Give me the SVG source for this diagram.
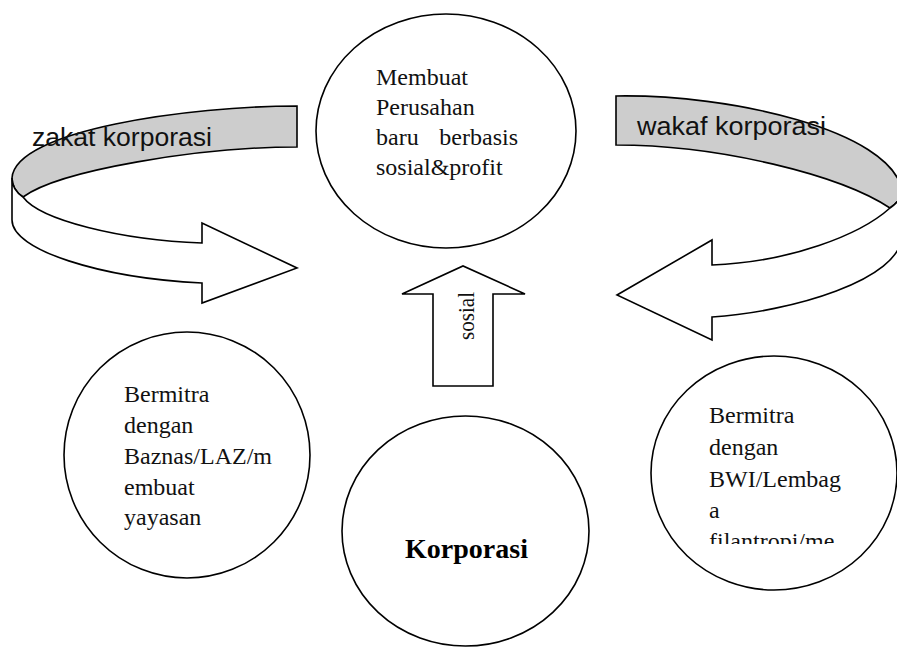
<svg xmlns="http://www.w3.org/2000/svg" width="897" height="648" viewBox="0 0 897 648">
<style>
.shape{fill:#fff;stroke:#000;stroke-width:1.6;stroke-linejoin:miter}
.band{fill:#cdcdcd;stroke:#000;stroke-width:1.6}
.t{font-family:"Liberation Serif","Times New Roman",serif;font-size:24px;fill:#111}
.s{font-family:"Liberation Sans",Arial,sans-serif;font-size:26.5px;fill:#111}
</style>
<defs>
<clipPath id="clipR"><rect x="640" y="380" width="257" height="164"/></clipPath>
</defs>
<rect width="897" height="648" fill="#fff"/>
<g id="connectors">
<g id="zakat-arrow">
<path class="band" d="M297,106 C190,106 15,130 12,178 C12,186 17,193 23,197 C60,170 200,147 297,147 Z"/>
<path class="shape" d="M12,178 C12,186 17,193 23,197 C40,220 120,240 202,243 L202,223 L297,268 L202,303 L202,283 C100,278 12,250 12,220 Z"/>
<text class="s" x="32" y="146" textLength="180" lengthAdjust="spacingAndGlyphs">zakat korporasi</text>
</g>
<g id="wakaf-arrow">
<path class="band" d="M616,96 C730,94 890,130 902,190 C902,198 896,204 890,208 C840,175 720,145 616,145 Z"/>
<path class="shape" d="M902,190 C902,198 896,204 890,208 C860,235 790,262 712,265 L712,240 L617,295 L712,340 L712,317 C790,312 902,280 902,235 Z"/>
<text class="s" x="637" y="135" textLength="189" lengthAdjust="spacingAndGlyphs">wakaf korporasi</text>
</g>
<g id="sosial-arrow">
<path class="shape" d="M433,386 L433,294 L402,294 L463,266 L525,294 L493,294 L493,386 Z"/>
<text class="t" style="font-size:23px" text-anchor="middle" transform="translate(474,316) rotate(-90)" textLength="48" lengthAdjust="spacingAndGlyphs">sosial</text>
</g>
</g>
<g id="node-perusahaan">
<ellipse class="shape" cx="446" cy="131" rx="130" ry="117"/>
<text class="t" x="376" y="85">Membuat</text>
<text class="t" x="376" y="115">Perusahan</text>
<text class="t" x="376" y="145">baru</text>
<text class="t" x="518" y="145" text-anchor="end">berbasis</text>
<text class="t" x="376" y="175">sosial&amp;profit</text>
</g>
<g id="node-baznas">
<ellipse class="shape" cx="187" cy="455" rx="123" ry="123"/>
<text class="t" x="124" y="402">Bermitra</text>
<text class="t" x="124" y="433">dengan</text>
<text class="t" x="124" y="464">Baznas/LAZ/m</text>
<text class="t" x="124" y="495">embuat</text>
<text class="t" x="124" y="525">yayasan</text>
</g>
<g id="node-bwi">
<ellipse class="shape" cx="774" cy="473" rx="123" ry="117"/>
<g clip-path="url(#clipR)">
<text class="t" x="709" y="423">Bermitra</text>
<text class="t" x="709" y="455">dengan</text>
<text class="t" x="709" y="487">BWI/Lembag</text>
<text class="t" x="709" y="518">a</text>
<text class="t" x="709" y="549">filantropi/me</text>
</g>
</g>
<g id="node-korporasi">
<ellipse class="shape" cx="465.5" cy="531" rx="123.5" ry="115"/>
<text class="t" x="466.5" y="558" text-anchor="middle" style="font-size:28px;font-weight:bold;fill:#000">Korporasi</text>
</g>
</svg>
